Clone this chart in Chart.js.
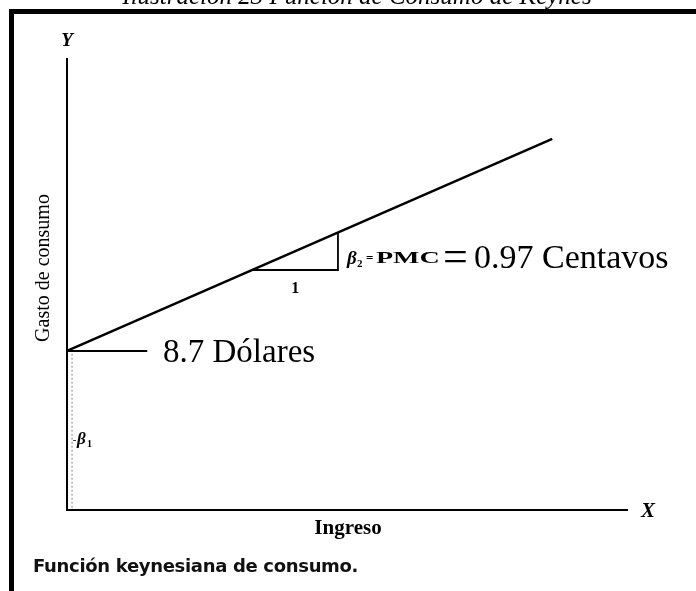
<!DOCTYPE html>
<html>
<head>
<meta charset="utf-8">
<script src="https://cdn.jsdelivr.net/npm/chart.js@4/dist/chart.umd.min.js"></script>
<style>
  html, body { margin: 0; padding: 0; background: #fff; }
  #wrap { width: 696px; height: 591px; overflow: hidden; }
</style>
</head>
<body>
<div id="wrap"><canvas id="consumo" width="696" height="591"></canvas></div>
<script>
// schematic units: both axes run 0..100
const axisX = [0, 0, 100];
const axisY = [100, 0, 0];
const ingreso = [0, 86.5];          // income at start / end of the consumption line
const gasto = [35.2, 82.1];         // consumption at those incomes
const trianguloX = [33, 48.3, 48.3];
const trianguloY = [53.1, 53.1, 61.4];
const marcaX = [0, 14.3];           // short tick pointing to "8.7 Dólares"
const marcaY = [35.2, 35.2];
const beta1X = [0.9, 0.9];          // dotted segment for beta1
const beta1Y = [0.5, 34.6];

const intercepto = '8.7 Dólares';
const pendiente = '0.97 Centavos';

function pts(xs, ys) {
    return xs.map((x, i) => ({ x: x, y: ys[i] }));
}

function seg(data, width, color, dash) {
    return {
        data: data,
        showLine: true,
        borderColor: color || '#000',
        borderWidth: width,
        borderDash: dash || [],
        pointRadius: 0,
        fill: false,
        clip: false
    };
}

const serif = '"Liberation Serif", "Times New Roman", serif';

const textos = {
    id: 'textos',
    afterDraw(chart) {
        const ctx = chart.ctx;
        const sx = chart.scales.x;
        const sy = chart.scales.y;
        ctx.save();
        ctx.fillStyle = '#000';

        // frame of the figure
        ctx.fillRect(9, 9, 700, 5);
        ctx.fillRect(9, 9, 5, 600);

        // cut-off caption title at top
        ctx.textAlign = 'center';
        ctx.textBaseline = 'alphabetic';
        ctx.font = 'italic 25px ' + serif;
        ctx.fillText('Ilustración 23 Función de Consumo de Keynes', 357, 4);

        ctx.textBaseline = 'middle';
        // axis letters
        ctx.font = 'italic bold 19px ' + serif;
        ctx.fillText('Y', sx.getPixelForValue(0), 41);
        ctx.font = 'italic bold 21px ' + serif;
        ctx.fillText('X', 648, sy.getPixelForValue(0) + 2);

        // axis titles
        ctx.font = 'bold 21px ' + serif;
        ctx.fillText('Ingreso', 348, sy.getPixelForValue(0) + 19);
        ctx.save();
        ctx.translate(44, 268);
        ctx.rotate(-Math.PI / 2);
        ctx.font = '20px ' + serif;
        ctx.fillText('Gasto de consumo', 0, 0);
        ctx.restore();

        // triangle run label
        ctx.font = 'bold 16px ' + serif;
        ctx.fillText('1', sx.getPixelForValue(40.7), sy.getPixelForValue(53.1) + 19);

        // intercept label
        ctx.textAlign = 'left';
        ctx.font = '33px ' + serif;
        ctx.fillText(intercepto, 163, sy.getPixelForValue(35.2) + 2);

        // slope label
        let x = 347, y = 259;
        ctx.font = 'italic bold 19px ' + serif;
        ctx.fillText('β', x, y);
        ctx.font = 'bold 11px ' + serif;
        ctx.fillText('2', x + 10, y + 5);
        ctx.font = 'bold 13px ' + serif;
        ctx.fillText('=', x + 19, y);
        ctx.save();
        ctx.translate(x + 29, y);
        ctx.scale(1.75, 1);
        ctx.font = 'bold 16px ' + serif;
        ctx.fillText('PMC', 0, 0);
        ctx.restore();
        ctx.font = '44px ' + serif;
        ctx.fillText('=', 443, y);
        ctx.font = '34px ' + serif;
        ctx.fillText(pendiente, 474, y);

        // beta1 label
        ctx.fillStyle = '#444';
        ctx.fillRect(73, 440, 3, 1);
        ctx.fillStyle = '#000';
        ctx.font = 'italic bold 17px ' + serif;
        ctx.fillText('β', 77, 440);
        ctx.font = 'bold 10px ' + serif;
        ctx.fillText('1', 87, 444);

        // caption under the figure
        ctx.font = 'bold 18px "DejaVu Sans", "Liberation Sans", sans-serif';
        const cap = 'Función keynesiana de consumo.';
        const w = ctx.measureText(cap).width;
        ctx.letterSpacing = ((325 - w) / cap.length).toFixed(2) + 'px';
        ctx.fillStyle = '#111';
        ctx.fillText(cap, 33, 567);

        ctx.restore();
    }
};

new Chart(document.getElementById('consumo'), {
    type: 'scatter',
    data: {
        datasets: [
            seg(pts(axisX, axisY), 2),
            seg(pts(ingreso, gasto), 2.5),
            seg(pts(trianguloX, trianguloY), 1.8),
            seg(pts(marcaX, marcaY), 2),
            seg(pts(beta1X, beta1Y), 1.2, '#999', [2, 2])
        ]
    },
    options: {
        responsive: false,
        animation: false,
        layout: { padding: { left: 67, right: 68, top: 58, bottom: 81 } },
        scales: {
            x: { type: 'linear', min: 0, max: 100, display: false },
            y: { type: 'linear', min: 0, max: 100, display: false }
        },
        plugins: {
            legend: { display: false },
            tooltip: { enabled: false }
        }
    },
    plugins: [textos]
});
</script>
</body>
</html>
